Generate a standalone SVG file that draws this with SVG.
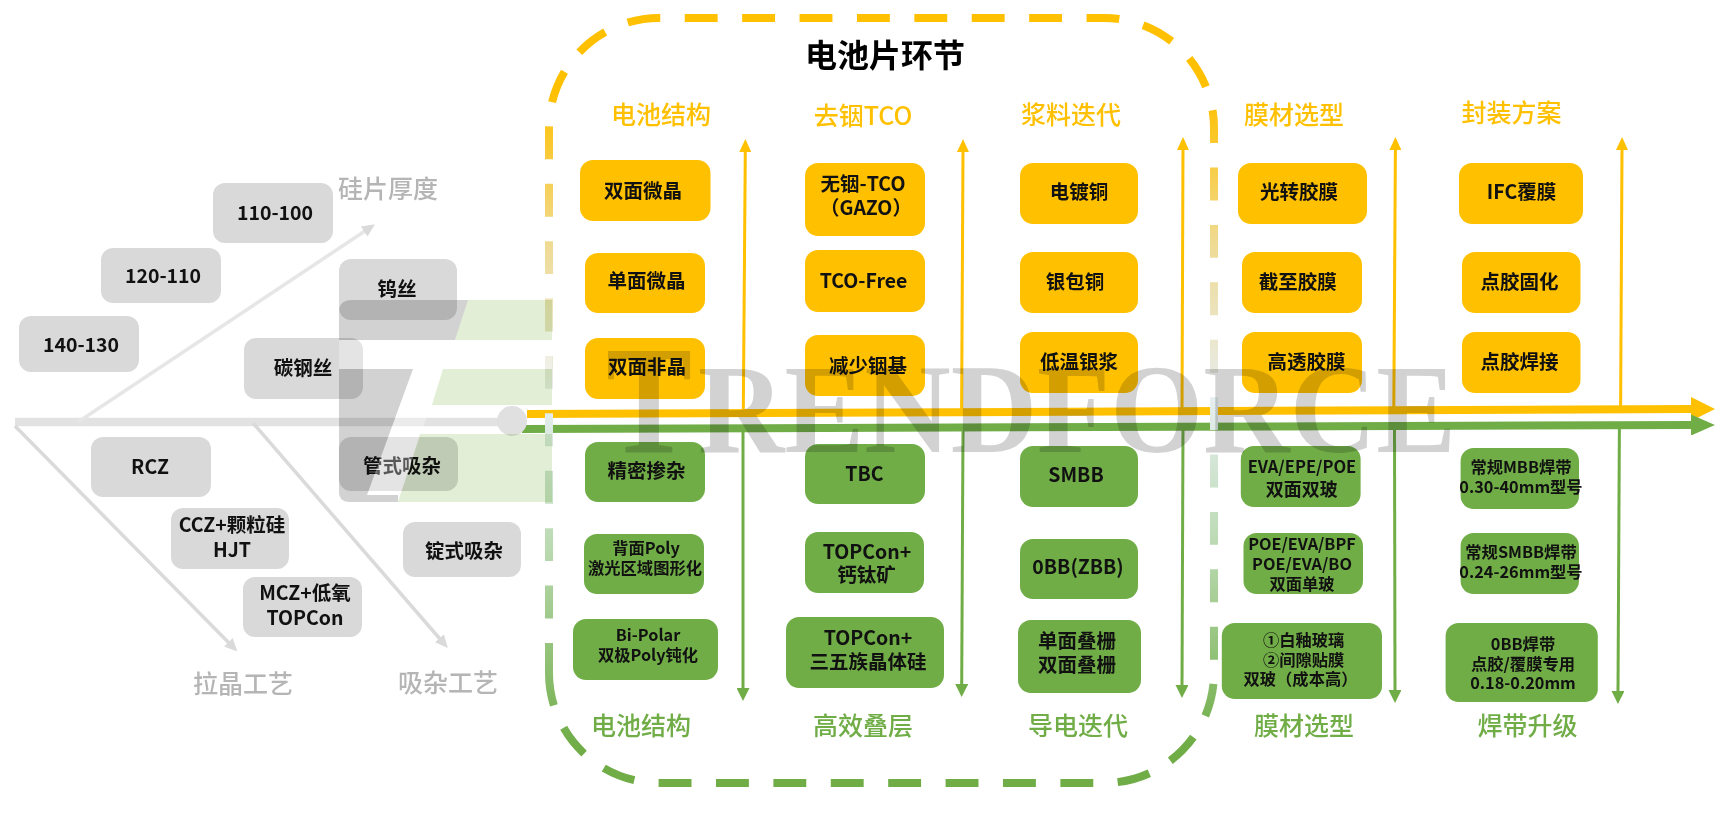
<svg xmlns="http://www.w3.org/2000/svg" width="1720" height="823" viewBox="0 0 1720 823">
<style>
text{font-family:"Noto Sans CJK SC","Noto Sans",sans-serif;font-weight:700;text-anchor:middle;dominant-baseline:central;fill:#111;transform:translateY(-2.2px)}
.g rect{fill:#d9d9d9}.y rect{fill:#ffc000}.n rect{fill:#70ad47}
.f20 text{font-size:19.5px}
.hd{font-size:25px;font-weight:500}.hy{fill:#ffc000}.hg{fill:#70ad47}.hx{fill:#b5b5b5}
.n text.s{font-size:16.3px}
.ty{stroke:#ffc000;stroke-width:3;fill:none;marker-end:url(#ay)}
.tg{stroke:#70ad47;stroke-width:3;fill:none;marker-end:url(#ag)}
.bone{stroke:#dadada;stroke-width:3.500;fill:none;marker-end:url(#ax)}
.mul{mix-blend-mode:multiply}
#watermark text{font-family:"Liberation Serif",serif;font-weight:700;fill:#d2d2d2;text-anchor:start;dominant-baseline:auto;transform:none}
</style>
<defs>
<marker id="ay" markerUnits="userSpaceOnUse" markerWidth="13" markerHeight="12" refX="1" refY="6" orient="auto"><path d="M0 0L13 6L0 12Z" fill="#ffc000"/></marker>
<marker id="ag" markerUnits="userSpaceOnUse" markerWidth="13" markerHeight="13" refX="1" refY="6.500" orient="auto"><path d="M0 0L13 6.500L0 13Z" fill="#70ad47"/></marker>
<marker id="ax" markerUnits="userSpaceOnUse" markerWidth="13" markerHeight="12" refX="1" refY="6" orient="auto"><path d="M0 0L13 6L0 12Z" fill="#dadada"/></marker>
<marker id="my" markerUnits="userSpaceOnUse" markerWidth="24" markerHeight="24" refX="1" refY="12" orient="auto"><path d="M0 0L24 12L0 24Z" fill="#ffc000"/></marker>
<marker id="mg" markerUnits="userSpaceOnUse" markerWidth="24" markerHeight="21" refX="1" refY="10.500" orient="auto"><path d="M0 0L24 10.500L0 21Z" fill="#70ad47"/></marker>
<linearGradient id="frame" gradientUnits="userSpaceOnUse" x1="0" y1="18" x2="0" y2="783">
<stop offset="0.1" stop-color="#ffc000"/><stop offset="0.3" stop-color="#efdb96"/><stop offset="0.5" stop-color="#e6eef0"/><stop offset="0.7" stop-color="#b8d9ae"/><stop offset="0.95" stop-color="#70ad47"/>
</linearGradient>
</defs>

<g id="connectors">
<path d="M15 422H500" stroke="#e2e2e2" stroke-width="8.500" fill="none"/>
<path d="M78 422L365 231" stroke="#e6e6e6" stroke-width="3.500" fill="none" marker-end="url(#ax)"/>
<path class="bone" d="M15 426L229 643"/>
<path class="bone" d="M253 423L440 639"/>
<path d="M527 414L1692 409" stroke="#ffc000" stroke-width="8" fill="none" marker-end="url(#my)"/>
<path d="M522 429L1692 425" stroke="#70ad47" stroke-width="8" fill="none" marker-end="url(#mg)"/>
<path class="ty" d="M743.300 412L745.300 151"/>
<path class="ty" d="M961.600 412L963 151"/>
<path class="ty" d="M1182 411L1183 149"/>
<path class="ty" d="M1393.800 410L1395.400 149"/>
<path class="ty" d="M1620.600 409L1622 149"/>
<path class="tg" d="M743 429V689"/>
<path class="tg" d="M963 429L961.700 685"/>
<path class="tg" d="M1183 428L1182 686"/>
<path class="tg" d="M1394.500 427L1395 691"/>
<path class="tg" d="M1619.400 425L1618 692"/>
<circle cx="512" cy="421" r="15" fill="#e0e0e0"/>
</g>

<g id="gray-labels">
<text class="hd hx" x="388" y="189">硅片厚度</text>
<text class="hd hx" x="243" y="684">拉晶工艺</text>
<text class="hd hx" x="448" y="683">吸杂工艺</text>
</g>
<g class="g f20">
<g id="t110"><rect x="213" y="183" width="120" height="60" rx="12"/><text x="275" y="214">110-100</text></g>
<g id="t120"><rect x="101" y="248" width="120" height="55" rx="12"/><text x="163" y="277">120-110</text></g>
<g id="t140"><rect x="19" y="316" width="120" height="56" rx="12"/><text x="81" y="346">140-130</text></g>
<g id="wu"><rect x="339" y="259" width="118" height="61" rx="12"/><text x="397" y="290">钨丝</text></g>
<g id="tan"><rect x="244" y="338" width="119" height="61" rx="12"/><text x="303" y="369">碳钢丝</text></g>
<g id="rcz"><rect x="91" y="437" width="120" height="60" rx="12"/><text x="150" y="468">RCZ</text></g>
<g id="guan"><rect x="339" y="437" width="119" height="54" rx="12"/><text x="402" y="467">管式吸杂</text></g>
<g id="ccz"><rect x="171" y="508" width="118" height="61" rx="12"/><text x="232" y="526">CCZ+颗粒硅</text><text x="232" y="551">HJT</text></g>
<g id="ding"><rect x="403" y="522" width="118" height="55" rx="12"/><text x="464" y="552">锭式吸杂</text></g>
<g id="mcz"><rect x="243" y="577" width="119" height="60" rx="12"/><text x="305" y="594">MCZ+低氧</text><text x="305" y="619">TOPCon</text></g>
</g>

<g id="title"><text x="885" y="55" font-size="32" style="fill:#000">电池片环节</text></g>
<g id="headers-top">
<text class="hd hy" x="661" y="115">电池结构</text>
<text class="hd hy" x="863" y="116">去铟TCO</text>
<text class="hd hy" x="1071" y="115">浆料迭代</text>
<text class="hd hy" x="1294" y="115">膜材选型</text>
<text class="hd hy" x="1511.500" y="113">封装方案</text>
</g>
<g id="headers-bottom">
<text class="hd hg" x="641" y="726">电池结构</text>
<text class="hd hg" x="863" y="726">高效叠层</text>
<text class="hd hg" x="1078" y="726">导电迭代</text>
<text class="hd hg" x="1304" y="726">膜材选型</text>
<text class="hd hg" x="1527.500" y="726">焊带升级</text>
</g>

<g class="y f20">
<g id="y11"><rect x="580" y="160" width="130.500" height="61" rx="13"/><text x="643" y="192">双面微晶</text></g>
<g id="y12"><rect x="585" y="253" width="120" height="60" rx="13"/><text x="646.500" y="282">单面微晶</text></g>
<g id="y13"><rect x="585" y="338" width="120" height="61" rx="13"/><text x="647" y="368">双面非晶</text></g>
<g id="y21"><rect x="805" y="163" width="120" height="73" rx="13"/><text x="863" y="185">无铟-TCO</text><text x="866" y="209">（GAZO）</text></g>
<g id="y22"><rect x="805" y="250" width="120" height="62" rx="13"/><text x="863.500" y="282">TCO-Free</text></g>
<g id="y23"><rect x="805" y="335" width="120" height="61" rx="13"/><text x="868" y="367">减少铟基</text></g>
<g id="y31"><rect x="1020" y="163" width="118" height="61" rx="13"/><text x="1079" y="193">电镀铜</text></g>
<g id="y32"><rect x="1020" y="252" width="118" height="61" rx="13"/><text x="1075" y="283">银包铜</text></g>
<g id="y33"><rect x="1020" y="332" width="118" height="61" rx="13"/><text x="1079" y="363">低温银浆</text></g>
<g id="y41"><rect x="1238" y="163" width="129" height="61" rx="13"/><text x="1299" y="193">光转胶膜</text></g>
<g id="y42"><rect x="1242" y="252" width="120" height="61" rx="13"/><text x="1297.700" y="283">截至胶膜</text></g>
<g id="y43"><rect x="1242" y="332" width="120" height="61" rx="13"/><text x="1306.400" y="363">高透胶膜</text></g>
<g id="y51"><rect x="1459" y="163" width="124" height="61" rx="13"/><text x="1521.500" y="193">IFC覆膜</text></g>
<g id="y52"><rect x="1462" y="252" width="118.500" height="61" rx="13"/><text x="1519.500" y="283">点胶固化</text></g>
<g id="y53"><rect x="1462" y="332" width="118.500" height="61" rx="13"/><text x="1519.500" y="363">点胶焊接</text></g>
</g>

<g class="n f20">
<g id="n11"><rect x="585" y="442" width="120" height="60" rx="13"/><text x="646.500" y="472">精密掺杂</text></g>
<g id="n12"><rect x="584" y="534" width="120" height="60" rx="13"/><text class="s" x="646" y="549">背面Poly</text><text class="s" x="645" y="569">激光区域图形化</text></g>
<g id="n13"><rect x="573" y="619" width="145" height="61" rx="13"/><text class="s" x="648" y="636">Bi-Polar</text><text class="s" x="648" y="656">双极Poly钝化</text></g>
<g id="n21"><rect x="805" y="444" width="120" height="60" rx="13"/><text x="864.500" y="475">TBC</text></g>
<g id="n22"><rect x="805" y="532" width="119" height="61" rx="13"/><text x="867" y="553">TOPCon+</text><text x="866.500" y="576">钙钛矿</text></g>
<g id="n23"><rect x="786" y="617" width="158" height="71" rx="13"/><text x="868" y="639">TOPCon+</text><text x="868" y="663">三五族晶体硅</text></g>
<g id="n31"><rect x="1020" y="446" width="118" height="61" rx="13"/><text x="1076" y="476">SMBB</text></g>
<g id="n32"><rect x="1020" y="539" width="118" height="60" rx="13"/><text x="1078" y="568">0BB(ZBB)</text></g>
<g id="n33"><rect x="1018" y="620" width="123" height="73" rx="13"/><text x="1077" y="642">单面叠栅</text><text x="1077" y="666">双面叠栅</text></g>
<g id="n41"><rect x="1240.800" y="446" width="119.800" height="61" rx="13"/><text x="1302" y="468" style="font-size:16.500px">EVA/EPE/POE</text><text x="1301.700" y="490" style="font-size:18px">双面双玻</text></g>
<g id="n42"><rect x="1243.500" y="533" width="119.500" height="61" rx="13"/><text class="s" x="1302" y="545">POE/EVA/BPF</text><text class="s" x="1302" y="565">POE/EVA/BO</text><text class="s" x="1302" y="585">双面单玻</text></g>
<g id="n43"><rect x="1221.800" y="623" width="160.200" height="76" rx="13"/><text class="s" x="1303.600" y="641">①白釉玻璃</text><text class="s" x="1303.600" y="661">②间隙贴膜</text><text class="s" x="1300.500" y="680">双玻（成本高）</text></g>
<g id="n51"><rect x="1460.600" y="448" width="118.400" height="61" rx="13"/><text class="s" x="1521" y="468">常规MBB焊带</text><text class="s" x="1521" y="488">0.30-40mm型号</text></g>
<g id="n52"><rect x="1460.600" y="533" width="118.400" height="61" rx="13"/><text class="s" x="1521" y="553">常规SMBB焊带</text><text class="s" x="1521" y="573">0.24-26mm型号</text></g>
<g id="n53"><rect x="1445.600" y="623" width="152.200" height="79" rx="13"/><text class="s" x="1523" y="645">0BB焊带</text><text class="s" x="1523" y="665">点胶/覆膜专用</text><text class="s" x="1523" y="684">0.18-0.20mm</text></g>
</g>

<g id="frame-outline">
<path d="M549 673A110 110 0 0 0 659 783H1104A110 110 0 0 0 1214 673V128A110 110 0 0 0 1104 18H659A110 110 0 0 0 549 128Z" fill="none" stroke="url(#frame)" stroke-width="8" stroke-dasharray="32.900 24.500"/>
</g>

<g id="watermark">
<path d="M339 340H552V369H443L398 502H367V495L413 369H339Z" fill="#fff" opacity=".3"/>
<path class="mul" d="M468 300L455 340H339V312Q339 300 352 300Z" fill="#d2d2d2"/>
<path class="mul" d="M339 369H413L367 495H398V502H350Q339 502 339 492Z" fill="#d2d2d2"/>
<path class="mul" d="M468 300H552V340H455Z" fill="#e2efd6"/>
<path class="mul" d="M443 369H552V405H432Z" fill="#e2efd6"/>
<path class="mul" d="M420 434H552V502H398Z" fill="#e2efd6"/>
<text class="mul" x="606" y="452" font-size="155" textLength="86" lengthAdjust="spacingAndGlyphs">T</text>
<text class="mul" x="698" y="452" font-size="127" textLength="758" lengthAdjust="spacingAndGlyphs">RENDFORCE</text>
</g>
</svg>
